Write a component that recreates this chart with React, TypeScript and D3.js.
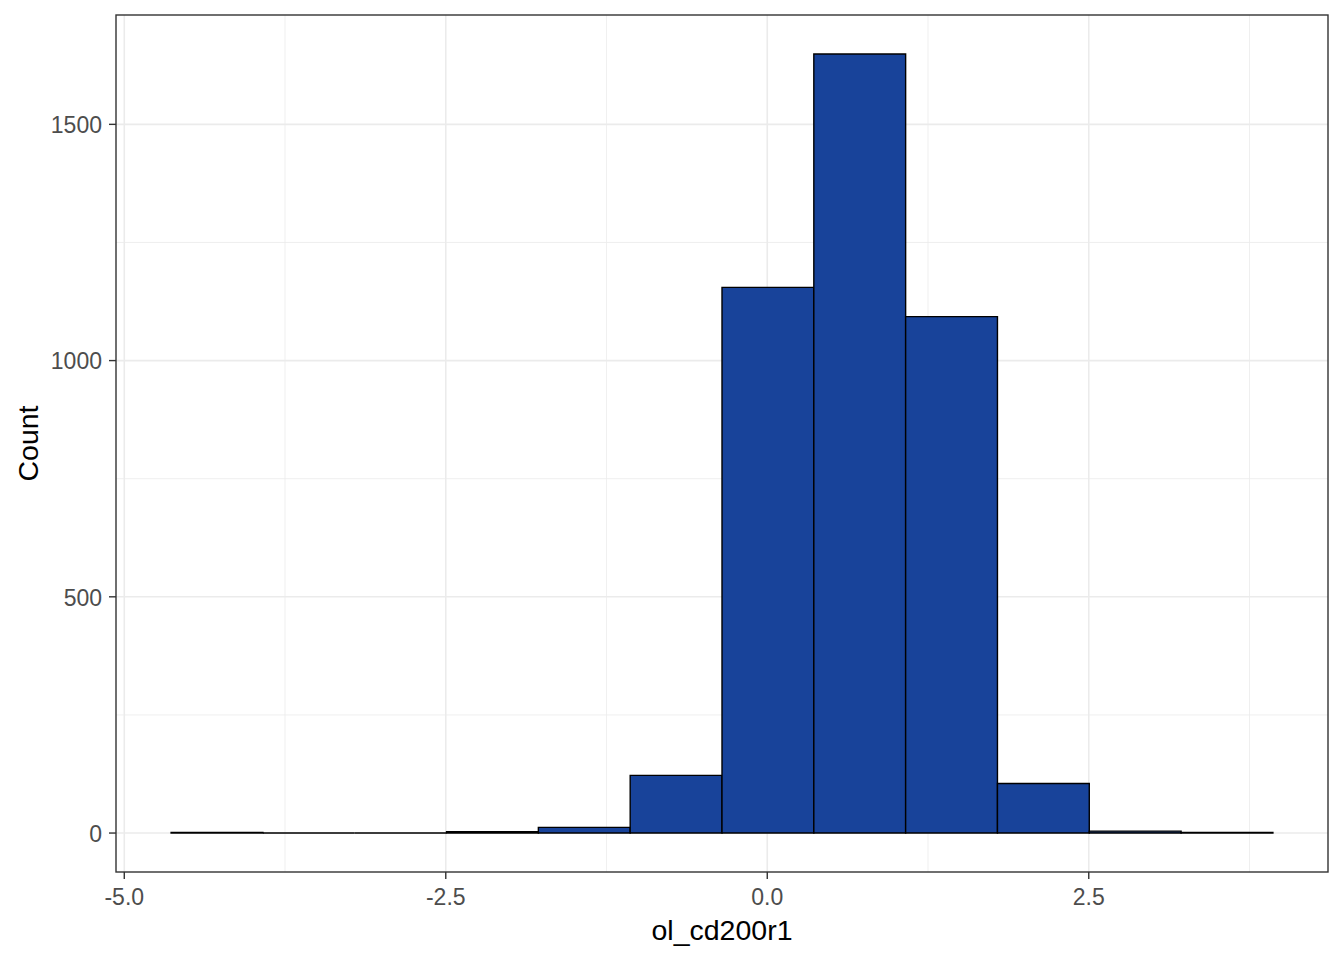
import * as d3 from "d3";

// histogram of ol_cd200r1 (bin edges and counts)
const binEdges = [
  -4.636, -3.922, -3.208, -2.494, -1.78, -1.066, -0.352, 0.362, 1.076, 1.79,
  2.504, 3.218, 3.932,
];
const binCounts = [1, 0, 0, 3, 12, 122, 1155, 1649, 1093, 105, 4, 1];

const xTicks = [-5.0, -2.5, 0.0, 2.5];
const xMinorTicks = [-3.75, -1.25, 1.25, 3.75];
const yTicks = [0, 500, 1000, 1500];
const yMinorTicks = [250, 750, 1250];

const xTitle = "ol_cd200r1";
const yTitle = "Count";

const W = 1344;
const H = 960;
const panel = { left: 116, right: 1328, top: 15, bottom: 872 };
const font = "'Liberation Sans', Arial, sans-serif";

export default function App() {
  const bins = binCounts.map((count, i) => ({
    x0: binEdges[i],
    x1: binEdges[i + 1],
    count,
  }));

  // ggplot-style 5% expansion on both axes
  const xLo = binEdges[0];
  const xHi = binEdges[binEdges.length - 1];
  const xPad = (xHi - xLo) * 0.05;
  const yMax = d3.max(binCounts) as number;
  const yPad = yMax * 0.05;

  const x = d3
    .scaleLinear()
    .domain([xLo - xPad, xHi + xPad])
    .range([panel.left, panel.right]);
  const y = d3
    .scaleLinear()
    .domain([-yPad, yMax + yPad])
    .range([panel.bottom, panel.top]);

  // drawn as closed paths so empty bins still show their outline
  const barPath = (b: { x0: number; x1: number; count: number }) => {
    const p = d3.path();
    p.rect(x(b.x0), y(b.count), x(b.x1) - x(b.x0), y(0) - y(b.count));
    return p.toString();
  };

  return (
    <svg
      width={W}
      height={H}
      style={{ position: "absolute", left: 0, top: 0, background: "#fff" }}
    >
      <rect x={0} y={0} width={W} height={H} fill="#fff" />

      {/* minor grid */}
      {yMinorTicks.map((t) => (
        <line
          key={"ym" + t}
          x1={panel.left}
          x2={panel.right}
          y1={y(t)}
          y2={y(t)}
          stroke="#EBEBEB"
          strokeWidth={0.8}
        />
      ))}
      {xMinorTicks.map((t) => (
        <line
          key={"xm" + t}
          x1={x(t)}
          x2={x(t)}
          y1={panel.top}
          y2={panel.bottom}
          stroke="#EBEBEB"
          strokeWidth={0.8}
        />
      ))}
      {/* major grid */}
      {yTicks.map((t) => (
        <line
          key={"yg" + t}
          x1={panel.left}
          x2={panel.right}
          y1={y(t)}
          y2={y(t)}
          stroke="#EBEBEB"
          strokeWidth={1.6}
        />
      ))}
      {xTicks.map((t) => (
        <line
          key={"xg" + t}
          x1={x(t)}
          x2={x(t)}
          y1={panel.top}
          y2={panel.bottom}
          stroke="#EBEBEB"
          strokeWidth={1.6}
        />
      ))}

      {/* bars */}
      {bins.map((b, i) => (
        <path
          key={i}
          d={barPath(b)}
          fill="#18439A"
          stroke="#000"
          strokeWidth={1.4}
        />
      ))}

      {/* panel border */}
      <rect
        x={panel.left}
        y={panel.top}
        width={panel.right - panel.left}
        height={panel.bottom - panel.top}
        fill="none"
        stroke="#333333"
        strokeWidth={1.4}
      />

      {/* x axis */}
      {xTicks.map((t) => (
        <g key={"xt" + t}>
          <line
            x1={x(t)}
            x2={x(t)}
            y1={panel.bottom}
            y2={panel.bottom + 7}
            stroke="#333333"
            strokeWidth={1.4}
          />
          <text
            x={x(t)}
            y={905}
            textAnchor="middle"
            fontFamily={font}
            fontSize={23}
            fill="#4D4D4D"
          >
            {t.toFixed(1)}
          </text>
        </g>
      ))}

      {/* y axis */}
      {yTicks.map((t) => (
        <g key={"yt" + t}>
          <line
            x1={panel.left - 7}
            x2={panel.left}
            y1={y(t)}
            y2={y(t)}
            stroke="#333333"
            strokeWidth={1.4}
          />
          <text
            x={panel.left - 14}
            y={y(t)}
            dy="0.38em"
            textAnchor="end"
            fontFamily={font}
            fontSize={23}
            fill="#4D4D4D"
          >
            {t}
          </text>
        </g>
      ))}

      {/* axis titles */}
      <text
        x={(panel.left + panel.right) / 2}
        y={940}
        textAnchor="middle"
        fontFamily={font}
        fontSize={28.5}
        fill="#000"
      >
        {xTitle}
      </text>
      <text
        transform={`translate(38,${(panel.top + panel.bottom) / 2}) rotate(-90)`}
        textAnchor="middle"
        fontFamily={font}
        fontSize={28.5}
        fill="#000"
      >
        {yTitle}
      </text>
    </svg>
  );
}
